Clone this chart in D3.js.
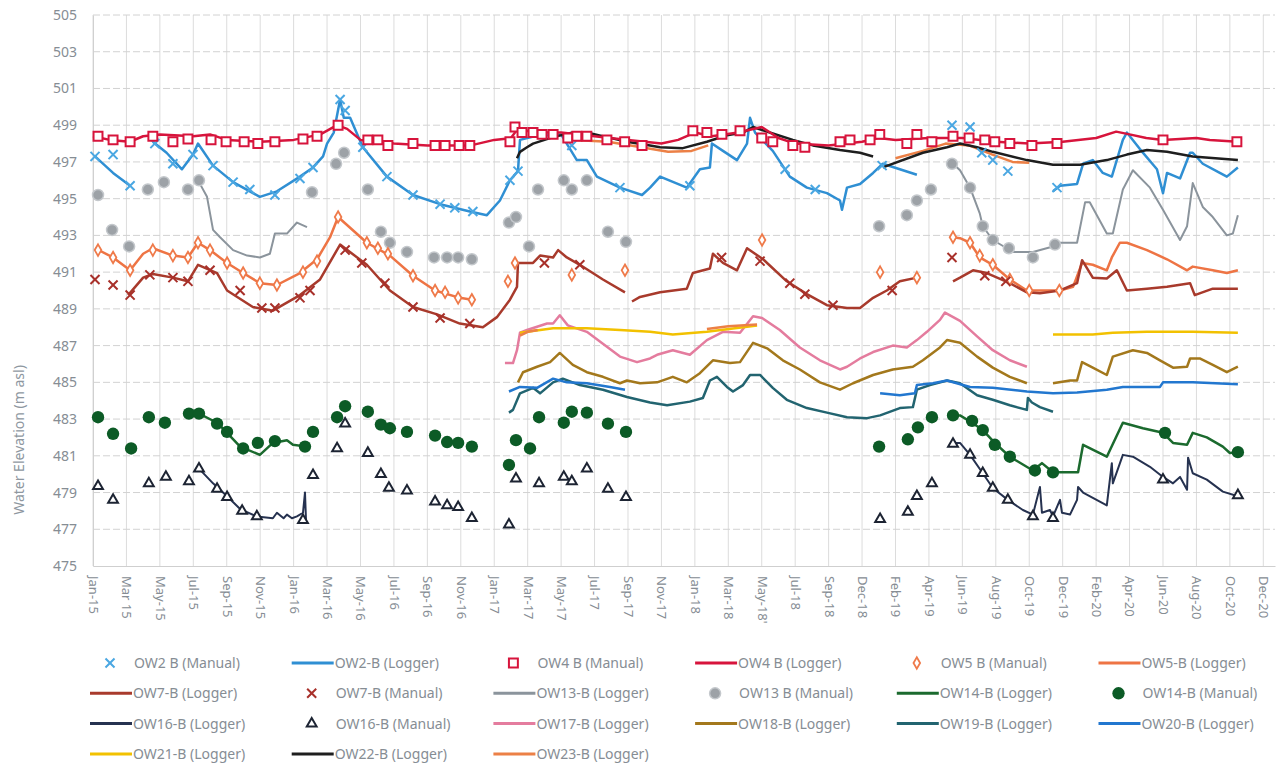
<!DOCTYPE html>
<html lang="en">
  <head>
    <meta charset="utf-8" />
    <script type="text/javascript" src="https://d3js.org/d3.v7.min.js"></script>
    <style>
      body { margin: 0; background: #fff; }
      text { font-family: "Noto Sans", "Open Sans", sans-serif; }
    </style>
  </head>

  <body>
    <script type="text/javascript">
      // x positions are in tick steps: 0 = Jan-15, 1 = Mar 15, ... 35 = Dec-20
      let tickLabels = [
        "Jan-15", "Mar 15", "May-15", "Jul-15", "Sep-15", "Nov-15",
        "Jan-16", "Mar-16", "May-16", "Jul-16", "Sep-16", "Nov-16",
        "Jan-17", "Mar-17", "May-17", "Jul-17", "Sep-17", "Nov-17",
        "Jan-18", "Mar-18", "May-18'", "Jul-18", "Sep-18", "Dec-18",
        "Feb-19", "Apr-19", "Jun-19", "Aug-19", "Oct-19", "Dec-19",
        "Feb-20", "Apr-20", "Jun-20", "Aug-20", "Oct-20", "Dec-20",
      ];
      let yTicks = [475, 477, 479, 481, 483, 485, 487, 489, 491, 493, 495, 497, 499, 501, 503, 505];

      // null splits a logger record into separate runs
      let ow2Manual = [[0.06,497.3],[0.6,497.4],[1.11,495.7],[1.85,498.0],[2.39,496.9],[2.99,497.4],[3.59,496.8],[4.19,495.9],[4.69,495.5],[5.44,495.2],[6.19,496.1],[6.58,496.7],[7.39,500.4],[7.54,499.8],[8.07,497.8],[8.79,496.2],[9.57,495.2],[10.38,494.7],[10.82,494.5],[11.36,494.3],[12.47,496.0],[12.71,496.5],[14.32,497.9],[15.76,495.6],[17.85,495.7],[20.7,496.6],[21.6,495.5],[23.6,496.8],[25.69,499.0],[26.23,498.9],[26.58,497.5],[26.91,497.1],[27.36,496.5],[28.83,495.6]];
      let ow2Logger = [[0.06,497.3],[0.6,496.4],[1.11,495.7],null,
        [1.79,498.1],[2.2,497.5],[2.66,496.6],[2.99,497.4],[3.14,498.0],[3.59,496.8],[4.19,495.9],[4.99,495.1],[5.5,495.4],[6.19,496.2],[6.58,496.7],[6.88,497.3],[7.0,498.0],[7.2,498.6],[7.39,500.4],[7.5,499.4],[7.69,499.4],[8.07,497.8],[8.79,496.2],[9.57,495.2],[10.38,494.7],[11.27,494.3],[11.78,494.1],[12.17,494.9],[12.47,496.0],[12.71,496.5],[12.77,498.2],[13.2,498.4],[14.0,498.5],[14.2,497.9],[14.47,497.1],[14.77,497.1],[15.07,496.2],[15.76,495.6],[16.42,495.2],[16.66,495.6],[16.96,496.2],[17.76,495.6],[18.15,496.6],[18.45,496.7],[18.51,498.0],[18.84,497.6],[19.26,497.1],[19.56,498.0],[19.65,499.4],[19.8,498.6],[20.33,497.6],[20.84,496.2],[21.35,495.6],[21.95,495.3],[22.34,494.9],[22.4,494.4],[22.55,495.6],[22.94,495.8],[23.33,496.4],[23.62,496.9],[24.13,496.6],[24.64,496.3],null,
        [28.71,495.4],[28.92,495.7],[29.43,495.8],[29.61,496.9],[29.9,497.1],[30.2,496.4],[30.47,496.2],[30.8,498.2],[30.92,498.6],[31.31,497.7],[31.82,496.6],[32.0,495.3],[32.12,496.4],[32.51,496.1],[32.81,497.5],[32.89,497.5],[33.19,496.9],[33.7,496.4],[33.91,496.2],[34.24,496.7]];
      let ow4Manual = [[0.15,498.4],[0.6,498.2],[1.11,498.1],[1.79,498.4],[2.39,498.1],[2.84,498.25],[3.53,498.2],[3.98,498.1],[4.52,498.1],[4.93,498.0],[5.44,498.1],[6.28,498.25],[6.7,498.4],[7.33,499.0],[8.22,498.2],[8.52,498.2],[8.82,497.9],[9.57,498.0],[10.23,497.9],[10.53,497.9],[10.95,497.9],[11.27,497.9],[12.47,498.1],[12.62,498.9],[12.83,498.6],[13.16,498.6],[13.43,498.5],[13.76,498.5],[14.2,498.3],[14.47,498.4],[14.77,498.4],[15.37,498.2],[15.9,498.1],[16.42,497.9],[17.94,498.7],[18.36,498.6],[18.81,498.5],[19.35,498.7],[20.0,498.3],[20.33,498.1],[20.93,497.9],[21.29,497.8],[22.34,498.1],[22.64,498.2],[23.24,498.2],[23.53,498.5],[24.34,498.0],[24.64,498.5],[25.09,498.1],[25.72,498.4],[26.2,498.3],[26.67,498.2],[26.97,498.1],[27.42,498.0],[28.08,497.9],[28.83,498.0],[32.0,498.2],[34.21,498.1]];
      let ow4Logger = [[0,498.4],[0.5,498.2],[1.1,498.1],[1.5,498.4],[2,498.5],[3,498.4],[3.5,498.5],[4,498.2],[5,498.1],[6,498.2],[6.8,498.5],[7.3,499.0],[7.6,498.8],[8,498.2],[9,498.0],[10,497.9],[11.3,497.9],[12,498.2],[12.5,498.3],[12.7,498.8],[13.2,498.6],[14,498.6],[15,498.4],[16,498.2],[17,498.0],[17.5,498.2],[18,498.6],[18.5,498.4],[19.3,498.6],[20,498.9],[20.5,498.3],[21,498.0],[22,497.9],[23,498.1],[23.5,498.3],[24,498.2],[25,498.3],[26,498.3],[27,498.1],[28,498.0],[29,498.1],[30,498.3],[30.6,498.65],[31,498.5],[31.5,498.3],[32,498.2],[33,498.3],[33.4,498.2],[34.24,498.1]];
      let ow5Manual = [[0.15,492.2],[0.6,491.8],[1.11,491.1],[1.79,492.2],[2.39,491.9],[2.84,491.8],[3.14,492.6],[3.5,492.2],[4.01,491.5],[4.49,490.95],[4.99,490.4],[5.5,490.3],[6.28,491.0],[6.7,491.6],[7.33,494.0],[8.19,492.6],[8.52,492.3],[8.82,492.0],[9.57,490.8],[10.23,490.0],[10.53,489.9],[10.92,489.6],[11.33,489.5],[12.41,490.5],[12.62,491.5],[14.32,490.85],[15.91,491.1],[20.01,492.75],[23.54,491.0],[24.64,490.7],[25.72,492.9],[26.23,492.6],[26.52,491.9],[26.91,491.4],[27.42,490.6],[28.0,490.0],[28.9,490.0]];
      let ow5Logger = [[0.06,492.3],[0.6,491.8],[1.11,491.1],[1.5,492.0],[1.79,492.3],[2.39,491.9],[2.84,491.8],[3.14,492.6],[3.5,492.2],[4.01,491.5],[4.49,490.95],[4.99,490.4],[5.5,490.3],[6.19,490.95],[6.7,491.7],[7.09,492.9],[7.33,494.0],[8.19,492.6],[8.88,491.9],[9.57,490.8],[10.23,490.0],[10.97,489.6],[11.33,489.5],null,
        [25.72,492.9],[25.93,492.85],[26.23,492.6],[26.52,491.8],[26.91,491.4],[27.42,490.6],[27.93,490.0],[28.41,490.0],[28.92,490.0],[29.31,490.2],[29.58,491.5],[29.9,491.4],[30.32,491.1],[30.47,491.8],[30.71,492.6],[30.92,492.6],[31.52,492.2],[32.12,491.7],[32.72,491.1],[32.89,491.3],[33.49,491.1],[33.91,490.95],[34.24,491.1]];
      let ow7Logger = [[1.05,489.75],[1.5,490.7],[1.79,490.9],[2.39,490.7],[2.84,490.5],[3.14,491.4],[3.71,490.95],[4.01,490.0],[4.78,489.1],[5.38,488.9],[6.19,489.75],[6.79,490.6],[7.39,492.5],[8.19,491.4],[8.88,490.0],[9.57,489.1],[10.29,488.7],[10.97,488.2],[11.66,488.0],[12.08,488.55],[12.47,489.5],[12.68,490.2],[12.71,491.5],[13.16,491.5],[13.37,491.9],[13.76,491.8],[13.91,492.2],[14.17,491.8],[14.56,491.4],[15.25,490.6],[15.91,489.9],null,
        [16.12,489.4],[16.36,489.65],[16.96,489.9],[17.76,490.1],[17.94,490.95],[18.45,491.2],[18.54,492.0],[18.84,491.5],[19.26,491.1],[19.56,492.3],[20.04,491.7],[20.75,490.5],[21.35,489.8],[21.95,489.2],[22.55,489.05],[22.94,489.05],[23.33,489.6],[23.74,490.0],[24.13,490.5],[24.64,490.7],null,
        [25.72,490.5],[25.93,490.7],[26.32,491.1],[26.73,490.95],[27.42,490.4],[27.93,489.9],[28.32,489.85],[28.92,490.0],[29.43,490.4],[29.58,491.65],[29.9,490.7],[30.32,490.65],[30.62,491.1],[30.92,490.0],[31.52,490.1],[32.12,490.2],[32.81,490.4],[32.95,489.75],[33.49,490.1],[34.24,490.1]];
      let ow7Manual = [[0.06,490.6],[0.6,490.3],[1.11,489.75],[1.7,490.85],[2.39,490.7],[2.84,490.5],[3.5,491.1],[4.4,490.0],[5.05,489.05],[5.44,489.05],[6.19,489.6],[6.49,490.0],[7.54,492.2],[8.04,491.5],[8.73,490.4],[9.57,489.1],[10.38,488.5],[11.27,488.2],[13.5,491.5],[14.56,491.4],[18.8,491.8],[19.95,491.6],[20.84,490.4],[21.29,489.8],[22.13,489.2],[23.9,490.0],[25.69,491.8],[26.67,490.8],[27.3,490.5]];
      let ow13Logger = [[3.17,495.9],[3.41,495.1],[3.59,493.3],[3.8,492.9],[4.19,492.2],[4.61,491.9],[4.99,491.8],[5.29,492.0],[5.44,493.1],[5.8,493.1],[6.1,493.7],[6.4,493.45],null,
        [25.72,496.9],[25.93,496.55],[26.23,495.6],[26.52,494.2],[26.61,493.5],[26.91,492.75],[27.33,492.3],[27.42,492.1],[28.11,492.1],[28.71,492.4],[28.92,492.6],[29.43,492.6],[29.67,494.8],[29.81,494.8],[30.32,493.1],[30.5,493.1],[30.8,495.5],[31.1,496.55],[31.61,495.6],[32.0,494.4],[32.51,492.75],[32.72,493.5],[32.89,495.85],[33.19,494.55],[33.49,494.0],[33.91,493.0],[34.09,493.1],[34.24,494.1]];
      let ow13Manual = [[0.15,495.2],[0.57,493.3],[1.08,492.4],[1.64,495.5],[2.12,495.9],[2.84,495.5],[3.17,496.0],[6.55,495.35],[7.27,496.9],[7.51,497.5],[8.22,495.5],[8.61,493.2],[8.88,492.6],[9.39,492.1],[10.2,491.8],[10.59,491.8],[10.92,491.8],[11.33,491.7],[12.44,493.7],[12.65,494.0],[13.04,492.4],[13.31,495.5],[14.08,496.0],[14.32,495.5],[14.77,496.0],[15.4,493.2],[15.94,492.65],[23.51,493.5],[24.34,494.1],[24.64,494.9],[25.06,495.5],[25.69,496.9],[26.23,495.6],[26.61,493.5],[26.91,492.75],[27.39,492.3],[28.11,491.8],[28.77,492.5]];
      let ow14Logger = [[3.17,483.3],[3.71,482.8],[4.01,482.25],[4.4,481.5],[4.99,481.05],[5.38,481.7],[5.8,481.85],[5.98,481.6],[6.4,481.5],null,
        [25.72,483.2],[25.93,483.2],[26.29,482.8],[26.61,482.4],[26.97,481.7],[27.42,480.95],[28.11,480.2],[28.38,480.6],[28.71,480.1],[29.13,480.1],[29.46,480.1],[29.61,481.6],[30.32,480.95],[30.8,482.8],[31.4,482.5],[32.0,482.25],[32.3,481.7],[32.72,481.6],[32.89,482.25],[33.31,482.0],[33.79,481.5],[34.0,481.15],[34.24,481.2]];
      let ow14Manual = [[0.15,483.1],[0.6,482.2],[1.14,481.4],[1.67,483.1],[2.15,482.8],[2.87,483.3],[3.17,483.3],[3.71,482.75],[4.01,482.3],[4.49,481.4],[4.93,481.7],[5.44,481.8],[6.34,481.5],[6.58,482.3],[7.3,483.1],[7.54,483.7],[8.22,483.4],[8.61,482.7],[8.88,482.5],[9.39,482.3],[10.23,482.1],[10.59,481.75],[10.92,481.7],[11.33,481.5],[12.44,480.5],[12.65,481.85],[13.07,481.4],[13.34,483.1],[14.08,482.8],[14.32,483.4],[14.77,483.35],[15.4,482.75],[15.94,482.3],[23.51,481.5],[24.37,481.9],[24.67,482.55],[25.09,483.1],[25.72,483.2],[26.29,482.9],[26.61,482.4],[26.97,481.6],[27.42,480.95],[28.17,480.2],[28.71,480.1],[32.06,482.25],[34.24,481.2]];
      let ow16Logger = [[3.17,480.3],[3.59,479.5],[4.01,478.8],[4.4,478.1],[4.9,477.7],[5.38,477.6],[5.5,477.9],[5.7,477.6],[5.8,477.8],[5.95,477.6],[6.1,477.7],[6.28,477.9],[6.34,479.0],[6.37,477.5],null,
        [25.72,481.7],[25.93,481.7],[26.23,481.05],[26.61,480.05],[26.91,479.25],[27.36,478.6],[27.81,478.05],[28.11,477.8],[28.32,479.3],[28.38,477.9],[28.62,478.05],[28.71,477.7],[28.92,478.6],[28.98,477.9],[29.22,477.8],[29.43,478.6],[29.46,479.3],[29.61,479.0],[30.32,478.3],[30.47,480.6],[30.5,479.5],[30.8,481.05],[31.1,480.95],[31.61,480.4],[32.0,479.85],[32.3,479.5],[32.51,479.85],[32.72,479.15],[32.75,480.9],[32.89,480.05],[33.31,479.7],[33.79,479.05],[34.24,478.8]];
      let ow16Manual = [[0.15,479.35],[0.6,478.6],[1.67,479.5],[2.18,479.85],[2.87,479.6],[3.17,480.3],[3.71,479.2],[4.01,478.75],[4.46,478.0],[4.9,477.7],[6.28,477.5],[6.58,479.95],[7.3,481.4],[7.54,482.75],[8.22,481.15],[8.61,480.0],[8.85,479.25],[9.39,479.1],[10.23,478.5],[10.59,478.3],[10.92,478.2],[11.33,477.6],[12.44,477.25],[12.65,479.75],[13.34,479.5],[14.08,479.85],[14.32,479.6],[14.77,480.3],[15.4,479.2],[15.94,478.75],[23.54,477.55],[24.37,477.95],[24.64,478.8],[25.09,479.5],[25.72,481.65],[26.23,481.05],[26.61,480.05],[26.91,479.25],[27.36,478.6],[28.11,477.7],[28.71,477.6],[32.0,479.7],[34.24,478.85]];
      let ow17Logger = [[12.32,486.05],[12.56,486.05],[12.68,486.75],[12.77,487.7],[12.98,487.85],[13.58,488.2],[13.76,488.2],[13.96,488.65],[14.2,488.1],[14.77,487.75],[15.25,487.1],[15.76,486.4],[16.27,486.1],[16.66,486.3],[16.87,486.5],[17.34,486.75],[17.85,486.5],[18.36,487.3],[18.84,487.75],[19.35,487.7],[19.74,488.6],[20.01,488.5],[20.54,487.85],[21.14,486.9],[21.74,486.2],[22.34,485.7],[22.55,485.85],[22.94,486.3],[23.33,486.65],[23.92,487.0],[24.34,486.9],[24.64,487.3],[24.94,487.75],[25.33,488.4],[25.48,488.8],[25.93,488.35],[26.44,487.5],[26.91,486.75],[27.42,486.2],[27.93,485.85]];
      let ow18Logger = [[12.71,485.0],[12.86,485.55],[13.28,485.85],[13.67,486.1],[13.96,486.6],[14.35,485.95],[14.77,485.55],[15.25,485.3],[15.76,484.95],[15.97,485.1],[16.36,484.95],[16.87,485.0],[17.34,485.3],[17.76,485.0],[18.15,485.5],[18.54,486.2],[19.05,486.05],[19.35,486.1],[19.74,487.15],[20.16,486.85],[20.63,486.2],[21.14,485.7],[21.74,485.0],[22.34,484.6],[22.73,484.95],[23.33,485.4],[23.92,485.7],[24.52,485.85],[24.82,486.2],[25.33,486.9],[25.54,487.3],[25.93,487.15],[26.44,486.4],[26.91,485.8],[27.42,485.3],[27.93,484.95],null,
        [28.71,484.95],[29.22,485.1],[29.43,485.1],[29.58,486.1],[29.9,485.8],[30.32,485.4],[30.5,486.4],[31.1,486.75],[31.52,486.6],[31.91,486.2],[32.3,485.8],[32.72,485.85],[32.81,486.3],[33.1,486.3],[33.49,485.95],[33.91,485.55],[34.24,485.85]];
      let ow19Logger = [[12.44,483.35],[12.56,483.5],[12.77,484.4],[13.16,484.7],[13.37,484.4],[13.76,485.0],[14.05,485.2],[14.56,484.85],[15.25,484.6],[15.97,484.2],[16.66,483.9],[17.17,483.75],[17.85,483.95],[18.24,484.15],[18.45,485.1],[18.66,485.3],[18.96,484.75],[19.14,484.5],[19.44,484.85],[19.65,485.4],[19.95,485.4],[20.33,484.7],[20.75,484.05],[21.35,483.6],[21.95,483.35],[22.55,483.1],[23.15,483.05],[23.54,483.2],[24.13,483.6],[24.52,483.65],[24.64,484.6],[25.03,484.85],[25.54,485.1],[25.93,484.95],[26.44,484.3],[26.91,484.05],[27.42,483.75],[27.93,483.5],[27.96,484.15],[28.08,483.9],[28.32,483.65],[28.71,483.4]];
      let ow20Logger = [[12.44,484.5],[12.77,484.75],[13.28,484.7],[13.76,485.2],[14.17,485.0],[14.77,484.95],[15.46,484.75],[15.91,484.6],null,
        [23.54,484.4],[24.13,484.3],[24.58,484.4],[24.64,484.85],[25.12,484.95],[25.54,485.1],[26.23,484.75],[26.91,484.7],[27.93,484.5],[28.71,484.4],[29.43,484.45],[30.32,484.6],[30.8,484.75],[31.91,484.75],[32.0,485.0],[32.89,485.0],[34.24,484.9]];
      let ow21Logger = [[12.77,487.7],[13.76,487.95],[14.77,487.95],[15.76,487.85],[16.66,487.75],[17.34,487.6],[18.36,487.75],[19.86,488.1],null,
        [28.71,487.6],[29.9,487.6],[30.5,487.7],[31.52,487.75],[32.89,487.75],[34.24,487.7]];
      let ow22Logger = [[12.68,497.2],[12.77,497.55],[12.98,497.8],[13.16,498.0],[13.76,498.35],[14.35,498.6],[14.77,498.6],[15.37,498.35],[15.97,498.1],[16.66,497.9],[16.96,497.8],[17.64,497.75],[18.36,498.1],[18.96,498.45],[19.44,498.6],[19.74,498.9],[20.33,498.55],[20.93,498.2],[21.53,497.9],[22.34,497.65],[22.94,497.5],[23.33,497.3],null,
        [23.62,496.7],[24.82,497.5],[25.54,497.8],[25.93,498.0],[26.44,497.8],[26.91,497.55],[27.93,497.1],[28.71,496.85],[29.52,496.85],[30.32,497.1],[30.92,497.4],[31.52,497.65],[32.12,497.55],[32.89,497.3],[34.24,497.1]];
      let ow23Logger = [[12.77,487.55],[13.0,487.75],[13.3,487.85],null,
        [18.36,487.9],[19.0,488.05],[19.86,488.15],null,
        [14.4,498.2],[15.4,498.1],[16.4,497.8],[17.2,497.55],[17.9,497.6],[18.4,497.9],null,
        [24.0,497.2],[24.82,497.6],[25.5,498.0],[26.2,497.9],[26.9,497.4],[27.5,497.0],[28.0,496.95]];

      let w = 1283;
      let h = 764;
      let margin = { left: 93, right: 1275, top: 15, bottom: 566 };
      let textColor = "#868d94";

      let svg = d3
        .select("body")
        .append("svg")
        .attr("width", w)
        .attr("height", h);

      let x = d3.scaleLinear().domain([0, 35.35]).range([margin.left, margin.right]);
      let y = d3.scaleLinear().domain([475, 505]).range([margin.bottom, margin.top]);

      // grid
      svg
        .append("g")
        .selectAll("line")
        .data(d3.range(tickLabels.length))
        .join("line")
        .attr("x1", (d) => x(d))
        .attr("x2", (d) => x(d))
        .attr("y1", margin.top)
        .attr("y2", margin.bottom)
        .attr("stroke", "#dcdcdc")
        .attr("stroke-width", 1);

      svg
        .append("g")
        .selectAll("line")
        .data(yTicks.slice(1))
        .join("line")
        .attr("x1", margin.left)
        .attr("x2", margin.right)
        .attr("y1", (d) => y(d))
        .attr("y2", (d) => y(d))
        .attr("stroke", "#d2d2d2")
        .attr("stroke-dasharray", "7,3")
        .attr("stroke-width", 1);

      // axes
      let yAxis = svg
        .append("g")
        .attr("transform", "translate(" + margin.left + ",0)")
        .call(d3.axisLeft(y).tickValues(yTicks).tickSize(0).tickPadding(16));
      yAxis.select(".domain").attr("stroke", "#d0d0d0");
      yAxis
        .selectAll("text")
        .attr("fill", textColor)
        .attr("font-size", "14px");

      let xAxis = svg
        .append("g")
        .attr("transform", "translate(0," + margin.bottom + ")")
        .call(
          d3
            .axisBottom(x)
            .tickValues(d3.range(tickLabels.length))
            .tickFormat((d) => tickLabels[d])
            .tickSize(0)
        );
      xAxis.select(".domain").attr("stroke", "#cfcfcf");
      xAxis
        .selectAll("text")
        .attr("fill", textColor)
        .attr("font-size", "13px")
        .attr("text-anchor", "start")
        .attr("dy", "0.35em")
        .attr("transform", "translate(0,10) rotate(90)")
        .attr("x", 0)
        .attr("y", 0);

      svg
        .append("text")
        .text("Water Elevation (m asl)")
        .attr("transform", "translate(24,440) rotate(-90)")
        .attr("text-anchor", "middle")
        .attr("font-size", "14px")
        .attr("fill", "#8e979f");

      // series styles
      let lines = [
        { data: ow2Logger, color: "#2f8fd3", width: 2.5 },
        { data: ow13Logger, color: "#8b949c", width: 2 },
        { data: ow5Logger, color: "#ee7444", width: 2.5 },
        { data: ow7Logger, color: "#a83a2c", width: 2.5 },
        { data: ow14Logger, color: "#1b6a2e", width: 2.5 },
        { data: ow16Logger, color: "#263250", width: 2 },
        { data: ow17Logger, color: "#e47c9e", width: 2.5 },
        { data: ow18Logger, color: "#a3781c", width: 2.5 },
        { data: ow19Logger, color: "#226470", width: 2.5 },
        { data: ow20Logger, color: "#2277cf", width: 2.5 },
        { data: ow21Logger, color: "#f2c100", width: 2.5 },
        { data: ow23Logger, color: "#ec8046", width: 2.5 },
        { data: ow22Logger, color: "#1e1e1e", width: 2.5 },
        { data: ow4Logger, color: "#d7143c", width: 2.5 },
      ];

      let line = d3
        .line()
        .defined((d) => d !== null)
        .x((d) => x(d[0]))
        .y((d) => y(d[1]));

      svg
        .append("g")
        .selectAll("path")
        .data(lines)
        .join("path")
        .attr("d", (d) => line(d.data))
        .attr("fill", "none")
        .attr("stroke", (d) => d.color)
        .attr("stroke-width", (d) => d.width)
        .attr("stroke-linejoin", "round");

      let markers = [
        { data: ow13Manual, shape: d3.symbolCircle, size: 95, fill: "#9da2a7", stroke: "#c4c8cc", sw: 1.5 },
        { data: ow5Manual, shape: d3.symbolDiamond, size: 38, fill: "#fff", stroke: "#ef7a4a", sw: 1.8 },
        { data: ow7Manual, shape: d3.symbolTimes, size: 55, fill: "none", stroke: "#a8302a", sw: 2 },
        { data: ow2Manual, shape: d3.symbolTimes, size: 55, fill: "none", stroke: "#4aa7e2", sw: 2 },
        { data: ow14Manual, shape: d3.symbolCircle, size: 120, fill: "#0c5b26", stroke: "none", sw: 0 },
        { data: ow16Manual, shape: d3.symbolTriangle, size: 42, fill: "#fff", stroke: "#1d2433", sw: 2 },
        { data: ow4Manual, shape: d3.symbolSquare, size: 80, fill: "#fff", stroke: "#d7143c", sw: 2 },
      ];

      markers.forEach((m) => {
        svg
          .append("g")
          .selectAll("path")
          .data(m.data)
          .join("path")
          .attr("transform", (d) => "translate(" + x(d[0]) + "," + y(d[1]) + ")")
          .attr("d", d3.symbol().type(m.shape).size(m.size))
          .attr("fill", m.fill)
          .attr("stroke", m.stroke)
          .attr("stroke-width", m.sw);
      });

      // legend
      let legendItems = [
        { label: "OW2 B (Manual)", marker: markers[3] },
        { label: "OW2-B (Logger)", line: lines[0] },
        { label: "OW4 B (Manual)", marker: markers[6] },
        { label: "OW4 B (Logger)", line: lines[13] },
        { label: "OW5 B (Manual)", marker: markers[1] },
        { label: "OW5-B (Logger)", line: lines[2] },
        { label: "OW7-B (Logger)", line: lines[3] },
        { label: "OW7-B (Manual)", marker: markers[2] },
        { label: "OW13-B (Logger)", line: lines[1] },
        { label: "OW13 B (Manual)", marker: markers[0] },
        { label: "OW14-B (Logger)", line: lines[4] },
        { label: "OW14-B (Manual)", marker: markers[4] },
        { label: "OW16-B (Logger)", line: lines[5] },
        { label: "OW16-B (Manual)", marker: markers[5] },
        { label: "OW17-B (Logger)", line: lines[6] },
        { label: "OW18-B (Logger)", line: lines[7] },
        { label: "OW19-B (Logger)", line: lines[8] },
        { label: "OW20-B (Logger)", line: lines[9] },
        { label: "OW21-B (Logger)", line: lines[10] },
        { label: "OW22-B (Logger)", line: lines[12] },
        { label: "OW23-B (Logger)", line: lines[11] },
      ];

      let legend = svg
        .append("g")
        .selectAll("g")
        .data(legendItems)
        .join("g")
        .attr("transform", (d, i) => {
          return "translate(" + (90 + (i % 6) * 201.7) + "," + (663 + Math.floor(i / 6) * 30.3) + ")";
        });

      legend
        .filter((d) => d.line)
        .append("line")
        .attr("x1", 0)
        .attr("x2", 42)
        .attr("stroke", (d) => d.line.color)
        .attr("stroke-width", 3);

      legend
        .filter((d) => d.marker)
        .append("path")
        .attr("transform", "translate(20,0)")
        .attr("d", (d) => d3.symbol().type(d.marker.shape).size(d.marker.size)())
        .attr("fill", (d) => d.marker.fill)
        .attr("stroke", (d) => d.marker.stroke)
        .attr("stroke-width", (d) => d.marker.sw);

      legend
        .append("text")
        .text((d) => d.label)
        .attr("x", (d) => (d.line ? 43 : 44))
        .attr("dy", "0.35em")
        .attr("font-size", "14px")
        .attr("fill", textColor);
    </script>
  </body>
</html>
